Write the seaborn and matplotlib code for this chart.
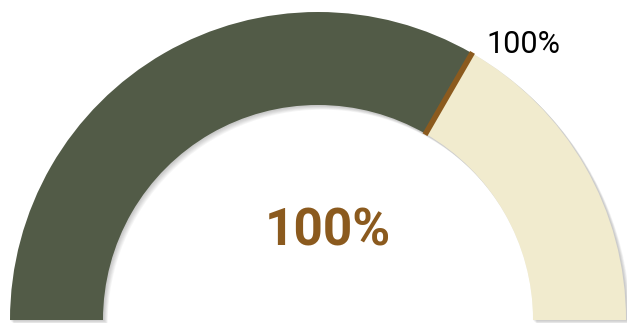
import numpy as np
import matplotlib
matplotlib.use("Agg")
import matplotlib.pyplot as plt
from matplotlib.patches import Wedge
import seaborn as sns

# Gauge data
gauge_min = 0
gauge_max = 150
value = 100
band_limits = [0, 100, 150]
band_colors = ["#525b47", "#f1ebce"]
marker_color = "#8b5a1e"
value_label = f"{value}%"

sns.set_theme(style="white")
plt.rcParams["font.family"] = ["Roboto", "DejaVu Sans"]

W, H = 627, 323
fig = plt.figure(figsize=(W / 100, H / 100), dpi=100)
ax = fig.add_axes([0, 0, 1, 1])
ax.set_xlim(0, W)
ax.set_ylim(0, H)
ax.set_aspect("equal")
ax.axis("off")

cx, cy = 318, 3
r_out, r_in = 308, 215
width = r_out - r_in


def to_angle(v):
    return 180 - 180 * (v - gauge_min) / (gauge_max - gauge_min)


# soft drop shadow behind the whole arc
for i in range(1, 7):
    ax.add_patch(Wedge((cx + i * 0.7, cy - i * 0.7), r_out + 0.5, 0, 180,
                       width=width + 1, facecolor="black", alpha=0.035,
                       edgecolor="none", zorder=1))

# coloured bands
for lo, hi, col in zip(band_limits[:-1], band_limits[1:], band_colors):
    ax.add_patch(Wedge((cx, cy), r_out, to_angle(hi), to_angle(lo),
                       width=width, facecolor=col, edgecolor="none", zorder=2))

# value marker
a = np.deg2rad(to_angle(value))
ax.plot([cx + (r_in - 1) * np.cos(a), cx + (r_out + 1) * np.cos(a)],
        [cy + (r_in - 1) * np.sin(a), cy + (r_out + 1) * np.sin(a)],
        color=marker_color, lw=4, solid_capstyle="butt", zorder=3)

# label next to the marker
la = np.deg2rad(to_angle(value) - 7.6)
ax.text(cx + 337 * np.cos(la), cy + 337 * np.sin(la), value_label,
        ha="center", va="baseline", fontsize=22, color="black", zorder=4)

# central value
ax.text(328, H - 245, value_label, ha="center", va="baseline",
        fontsize=37, fontweight="bold", color=marker_color, zorder=4)

fig.savefig("out.png", dpi=100)
